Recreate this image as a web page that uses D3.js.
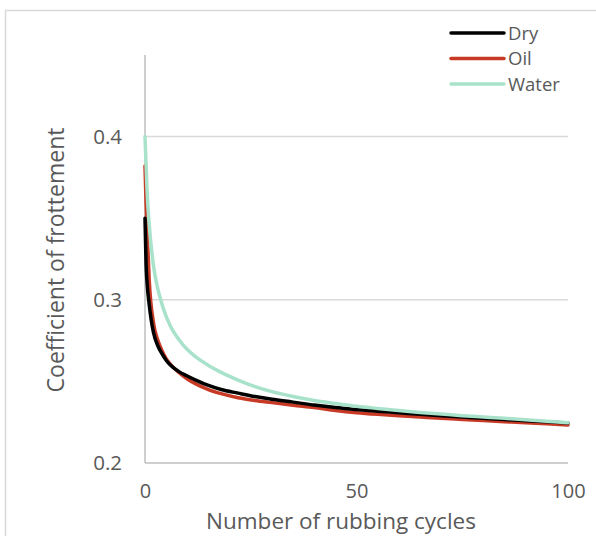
<!DOCTYPE html>
<html><head><meta charset="utf-8">
<script src="https://cdn.jsdelivr.net/npm/d3@7"></script>
<style>html,body{margin:0;padding:0;background:#fff;}svg{display:block;}</style>
</head><body><svg id="c" width="596" height="536"></svg>
<script>
const cycles = [0,0.25,0.5,1,2,3,4,5,6,8,10,12,15,18,22,26,30,35,40,45,50,55,60,65,70,75,80,85,90,95,100];
const dry   = [0.350,0.322,0.310,0.297,0.280,0.272,0.267,0.263,0.260,0.256,0.2533,0.2508,0.2475,0.2450,0.2428,0.2407,0.2390,0.2373,0.2355,0.2340,0.2328,0.2317,0.2308,0.2298,0.2290,0.2282,0.2274,0.2266,0.2259,0.2252,0.2245];
const oil   = [0.382,0.360,0.342,0.312,0.286,0.2755,0.2690,0.2640,0.2605,0.2555,0.2515,0.2485,0.2450,0.2425,0.2400,0.2383,0.2370,0.2354,0.2340,0.2322,0.2308,0.2298,0.2290,0.2282,0.2274,0.2267,0.2260,0.2253,0.2246,0.2240,0.2233];
const water = [0.400,0.383,0.366,0.346,0.321,0.307,0.2975,0.2898,0.2840,0.2757,0.2695,0.2650,0.2598,0.2555,0.2508,0.2468,0.2437,0.2407,0.2383,0.2365,0.2348,0.2334,0.2321,0.2310,0.2300,0.2290,0.2282,0.2274,0.2265,0.2256,0.2247];
const seriesNames = ["Dry","Oil","Water"];
const seriesColors = ["#000000","#c83a26","#a8e2cb"];
const xTicks = [0,50,100];
const yTicks = [0.2,0.3,0.4];
const xTitle = "Number of rubbing cycles";
const yTitle = "Coefficient of frottement";

const svg = d3.select("#c");
const font = "'Open Sans', sans-serif";
const textColor = "#595959";
const L=145, R=568, T=55, B=463;
const x = d3.scaleLinear().domain([0,100]).range([L,R]);
const y = d3.scaleLinear().domain([0.2,0.45]).range([B,T]);

// chart border
svg.append("rect").attr("x",5.5).attr("y",10.5).attr("width",800).attr("height",800)
  .attr("fill","none").attr("stroke","#d9d9d9").attr("stroke-width",1.5);

// gridlines
svg.append("g").selectAll("line").data(yTicks.filter(t=>t>0.2)).join("line")
  .attr("x1",L).attr("x2",R).attr("y1",d=>y(d)).attr("y2",d=>y(d))
  .attr("stroke","#d9d9d9").attr("stroke-width",1.5);

// axes lines
svg.append("line").attr("x1",L).attr("x2",L).attr("y1",T).attr("y2",B).attr("stroke","#bfbfbf").attr("stroke-width",1.5);
svg.append("line").attr("x1",L).attr("x2",R).attr("y1",B).attr("y2",B).attr("stroke","#bfbfbf").attr("stroke-width",1.5);

// tick labels
const yAxis = d3.axisLeft(y).tickValues(yTicks).tickSize(0).tickPadding(23).tickFormat(d3.format(".1f"));
const ga = svg.append("g").attr("transform",`translate(${L},0)`).call(yAxis);
ga.select(".domain").remove();
ga.selectAll("text").attr("font-family",font).attr("font-size",20.5).attr("fill",textColor);
const xAxis = d3.axisBottom(x).tickValues(xTicks).tickSize(0).tickPadding(21).tickFormat(d3.format("d"));
const gx = svg.append("g").attr("transform",`translate(0,${B})`).call(xAxis);
gx.select(".domain").remove();
gx.selectAll("text").attr("font-family",font).attr("font-size",20).attr("fill",textColor);

// titles
svg.append("text").attr("x",341).attr("y",529).attr("text-anchor","middle")
  .attr("font-family",font).attr("font-size",22.5).attr("fill",textColor).text(xTitle);
svg.append("text").attr("transform",`translate(64,260) rotate(-90)`).attr("text-anchor","middle")
  .attr("font-family",font).attr("font-size",23).attr("fill",textColor).text(yTitle);

// lines
const line = d3.line().x(d=>x(d[0])).y(d=>y(d[1])).curve(d3.curveMonotoneX);
const data = [dry,oil,water];
const order = [1,0,2];
order.forEach(i=>{
  svg.append("path").datum(cycles.map((c,j)=>[c,data[i][j]]))
    .attr("d",line).attr("fill","none").attr("stroke",seriesColors[i])
    .attr("stroke-width",3.5).attr("stroke-linejoin","round").attr("stroke-linecap","round");
});

// legend
const lg = svg.append("g");
seriesNames.forEach((n,i)=>{
  const yy = 33 + i*25.5;
  lg.append("line").attr("x1",451).attr("x2",504).attr("y1",yy).attr("y2",yy)
    .attr("stroke",seriesColors[i]).attr("stroke-width",3.5).attr("stroke-linecap","round");
  lg.append("text").attr("x",508).attr("y",yy+6.5).attr("font-family",font).attr("font-size",18.5)
    .attr("fill",textColor).text(n);
});
</script></body></html>
